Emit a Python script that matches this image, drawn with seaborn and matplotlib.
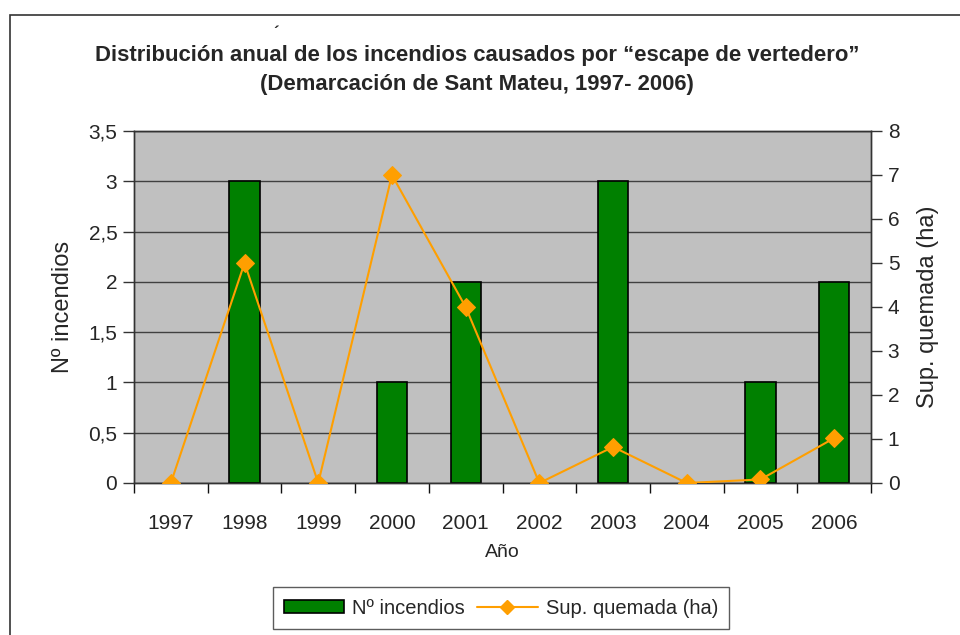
import numpy as np
import pandas as pd
import matplotlib
matplotlib.use("Agg")
import matplotlib.pyplot as plt
import seaborn as sns
from matplotlib.patches import Rectangle, Patch
from matplotlib.lines import Line2D

years = ["1997", "1998", "1999", "2000", "2001", "2002", "2003", "2004", "2005", "2006"]
n_incendios = [0, 3, 0, 1, 2, 0, 3, 0, 1, 2]
sup_quemada = [0, 5, 0, 7, 4, 0, 0.82, 0, 0.08, 1.02]
left_ticks = [0, 0.5, 1, 1.5, 2, 2.5, 3, 3.5]
left_ticklabels = ["0", "0,5", "1", "1,5", "2", "2,5", "3", "3,5"]
right_ticks = [0, 1, 2, 3, 4, 5, 6, 7, 8]

title = "Distribución anual de los incendios causados por “escape de vertedero”\n(Demarcación de Sant Mateu, 1997- 2006)"

sns.set_style("white")
plt.rcParams['font.family'] = ['Liberation Sans', 'DejaVu Sans']

W, H = 960, 635
fig = plt.figure(figsize=(9.6, 6.35), dpi=100)
L, R, T, B = 134, 871, 131, 483
ax = fig.add_axes([L / W, 1 - B / H, (R - L) / W, (B - T) / H])
ax.set_facecolor("#c0c0c0")

df = pd.DataFrame({"year": years, "n": n_incendios, "sup": sup_quemada})
sns.barplot(data=df, x="year", y="n", color="#008000", saturation=1,
            edgecolor="black", linewidth=1.2, width=0.41, ax=ax, zorder=3)
for p in ax.patches:
    if p.get_height() == 0:
        p.set_visible(False)
ax.set_xlim(-0.5, 9.5)
ax.set_ylim(0, 3.5)
ax.set_yticks(left_ticks)
ax.set_yticklabels(left_ticklabels)
ax.yaxis.grid(True, color="#404040", linewidth=1)
ax.set_axisbelow(True)
ax.tick_params(axis="y", direction="out", length=8, width=1, color="#333333",
               labelsize=15, pad=4, left=True)
ax.tick_params(axis="x", which="major", length=0, labelsize=15, pad=22)
ax.set_xticks(np.arange(-0.5, 10, 1), minor=True)
ax.tick_params(axis="x", which="minor", direction="out", length=7, width=1, color="#111111", bottom=True)
ax.set_xlabel("Año", fontsize=14, labelpad=8)
ax.set_ylabel("Nº incendios", fontsize=17, labelpad=10)
for s in ax.spines.values():
    s.set_color("#333333")
    s.set_linewidth(1)

ax2 = ax.twinx()
sns.lineplot(x=np.arange(len(years)), y=sup_quemada, ax=ax2, color="#ff9f00",
             marker="D", markersize=9, markeredgecolor="#ff9f00", linewidth=1.5, zorder=5)
ax2.set_ylim(0, 8)
ax2.set_yticks(right_ticks)
ax2.tick_params(axis="y", direction="out", length=8, width=1, color="#333333",
                labelsize=15, pad=4)
ax2.set_ylabel("Sup. quemada (ha)", fontsize=17, labelpad=13)
for s in ax2.spines.values():
    s.set_color("#333333")
    s.set_linewidth(1)

fig.text(477 / W, 1 - 70 / H, title, ha="center", va="center", fontsize=15.9,
         fontweight="bold", linespacing=1.45)
fig.text(276 / W, 1 - 33 / H, "´", ha="center", va="center", fontsize=12, fontweight="bold")

# outer frame
fig.patches.append(Rectangle((10 / W, -0.1), 1.2, 1 - 15 / H + 0.1, transform=fig.transFigure,
                             fill=False, edgecolor="#333333", linewidth=1.2))

# legend
handles = [Patch(facecolor="#008000", edgecolor="black", linewidth=1.2),
           Line2D([0], [0], color="#ff9f00", marker="D", markersize=7, linewidth=1.5)]
leg = fig.legend(handles, ["Nº incendios", "Sup. quemada (ha)"], loc="center",
                 bbox_to_anchor=(501 / W, 1 - 608 / H), ncol=2, fontsize=14.5,
                 frameon=True, fancybox=False, edgecolor="#333333", handlelength=3,
                 handleheight=0.6, columnspacing=0.6, handletextpad=0.4, borderpad=0.55)
leg.get_frame().set_linewidth(1)

fig.savefig("out.png", dpi=100)
